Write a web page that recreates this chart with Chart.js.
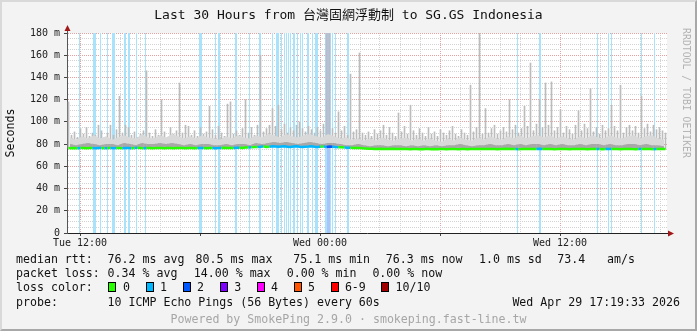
<!DOCTYPE html>
<html>
<head>
<meta charset="utf-8">
<title>SmokePing - SG.GS Indonesia</title>
<script src="https://cdn.jsdelivr.net/npm/chart.js@4/dist/chart.umd.min.js"></script>
<style>
html,body{margin:0;padding:0;background:#f3f3f3;}
#wrap{position:relative;width:697px;height:331px;overflow:hidden;background:#f3f3f3;font-family:"DejaVu Sans Mono",monospace;color:#111;}
#chart{position:absolute;left:0;top:0;}
#frame{position:absolute;left:0;top:0;width:697px;height:331px;box-sizing:border-box;border:2px solid #d9d9d9;border-right-color:#a8a8a8;border-bottom-color:#a8a8a8;pointer-events:none;}
.t{position:absolute;white-space:pre;font-size:11.6px;line-height:14px;}
.sw{position:absolute;top:282px;width:8px;height:10px;box-sizing:border-box;border:1px solid #000;}
#title{position:absolute;left:0;top:7px;width:697px;text-align:center;font-size:13px;line-height:16px;font-family:"DejaVu Sans Mono","Noto Sans CJK TC",monospace;}
#ylab{position:absolute;left:-40px;top:126px;width:100px;text-align:center;font-size:11.6px;line-height:14px;transform:rotate(-90deg);}
#side{position:absolute;left:616px;top:87px;width:140px;text-align:center;font-size:9.8px;line-height:12px;color:#b4b4b4;transform:rotate(90deg);}
#powered{position:absolute;left:0;top:312px;width:697px;text-align:center;font-size:11.6px;line-height:14px;color:#a6a6a6;}
</style>
</head>
<body>
<div id="wrap">
  <canvas id="chart" width="697" height="331"></canvas>
  <div id="title">Last 30 Hours from 台灣固網浮動制 to SG.GS Indonesia</div>
  <div id="ylab">Seconds</div>
  <div id="side">RRDTOOL / TOBI OETIKER</div>

  <div class="t" style="left:16px;top:252px">median rtt:</div>
  <div class="t" style="left:107.6px;top:252px">76.2 ms avg</div>
  <div class="t" style="left:195.6px;top:252px">80.5 ms max</div>
  <div class="t" style="left:293.3px;top:252px">75.1 ms min</div>
  <div class="t" style="left:385.8px;top:252px">76.3 ms now</div>
  <div class="t" style="left:479px;top:252px">1.0 ms sd</div>
  <div class="t" style="left:557.3px;top:252px">73.4</div>
  <div class="t" style="left:607px;top:252px">am/s</div>

  <div class="t" style="left:16px;top:266px">packet loss:</div>
  <div class="t" style="left:107.6px;top:266px">0.34 % avg</div>
  <div class="t" style="left:193.8px;top:266px">14.00 % max</div>
  <div class="t" style="left:286.7px;top:266px">0.00 % min</div>
  <div class="t" style="left:372.4px;top:266px">0.00 % now</div>

  <div class="t" style="left:16px;top:280px">loss color:</div>
  <div id="lossLegend"></div>

  <div class="t" style="left:16px;top:295px">probe:</div>
  <div class="t" style="left:107.6px;top:295px">10 ICMP Echo Pings (56 Bytes) every 60s</div>
  <div class="t" style="left:512.4px;top:295px">Wed Apr 29 17:19:33 2026</div>

  <div id="powered">Powered by SmokePing 2.9.0 · smokeping.fast-line.tw</div>
  <div id="frame"></div>
</div>
<script>
// time axis in minutes counted from Tue 00:00
const START = 681;        // Tue 11:21
const END = 2481;         // Wed 17:21
const STEP = 9;           // median / spike sampling (minutes)
const BAND_STEP = 18;     // smoke band sampling (minutes)

const tickAt = [720, 1440, 2160];
const tickText = ["Tue 12:00", "Wed 00:00", "Wed 12:00"];

// median rtt (ms), one value per STEP
const median = [
  76.4,76.2,76.5,76.3,76.4,76.6,76.3,76.4,76.5,76.2,76.4,76.6,76.3,76.5,76.4,76.2,76.6,76.4,76.3,76.5,
  76.4,76.3,76.5,76.7,76.4,76.2,76.4,76.5,76.3,76.4,76.6,76.4,76.2,76.5,76.4,76.3,76.6,76.4,76.5,76.3,
  76.4,76.5,76.3,76.4,76.6,76.4,76.2,76.4,76.5,76.3,76.4,76.6,76.7,76.5,76.4,76.6,76.8,76.7,76.6,76.9,
  77.0,77.2,77.3,77.5,77.6,77.8,77.5,77.7,78.0,77.8,77.6,77.9,78.1,77.7,77.5,77.8,78.0,77.6,77.4,77.7,
  77.8,78.0,77.6,77.4,77.7,77.9,77.5,77.8,77.6,77.3,77.1,77.2,77.0,76.8,76.7,76.6,76.5,76.4,76.2,76.1,
  75.8,75.9,75.7,75.6,75.8,75.7,75.5,75.6,75.8,75.7,75.5,75.6,75.7,75.5,75.4,75.6,75.5,75.3,75.4,75.5,
  75.6,75.4,75.5,75.3,75.5,75.6,75.4,75.5,75.7,75.5,75.4,75.6,75.5,75.4,75.6,75.5,75.7,75.6,75.5,75.6,
  75.5,75.7,75.6,75.4,75.5,75.6,75.8,75.7,75.5,75.6,75.4,75.5,75.7,75.6,75.5,75.7,75.6,75.8,75.6,75.5,
  75.7,75.6,75.4,75.5,75.7,75.6,75.5,75.4,75.6,75.5,75.7,75.6,75.5,75.4,75.6,75.5,75.7,75.6,75.4,75.5,
  75.6,75.5,75.7,75.6,75.4,75.5,75.6,75.7,75.5,75.4,75.6,75.5,75.7,75.6,75.5,75.4,75.6,75.5,75.7,75.6
];

// slowest ping of each STEP (ms)
const spikeMax = [
  118,88,91,86,94,89,95,87,90,88,97,92,86,90,97,88,93,123,90,97,
  95,88,91,86,89,92,146,90,87,93,88,120,91,86,95,89,92,135,90,97,
  96,88,92,87,95,89,91,114,93,88,96,90,87,116,118,89,92,88,94,120,
  90,95,88,97,160,91,94,97,112,96,115,93,98,90,95,92,97,100,94,91,
  96,93,90,95,92,98,181,181,94,90,109,92,96,88,143,91,93,162,90,88,
  91,87,93,89,92,97,88,95,90,87,108,91,96,89,115,92,88,94,90,87,
  95,89,91,87,93,90,88,92,96,89,87,93,90,88,133,91,95,180,89,112,
  90,94,97,89,92,95,91,120,93,97,90,94,114,96,153,92,98,120,95,135,
  97,136,92,95,111,90,96,93,89,97,110,92,98,94,130,91,95,89,97,92,
  94,115,96,92,133,90,95,97,92,96,90,123,94,98,91,97,93,95,92,90
];

// smoke: upper edge of the dense light band, one value per BAND_STEP
const bandTop = [
  86,84,87,85,88,85,87,84,86,88,86,85,89,86,85,88,86,89,87,85,
  87,85,88,86,85,84,87,85,88,86,85,88,86,89,88,86,89,87,86,88,
  89,87,86,89,87,85,86,84,85,83,85,83,86,84,83,85,86,83,85,83,
  85,83,82,85,83,86,84,83,86,84,87,85,84,87,85,88,85,87,88,86,
  88,85,87,85,84,87,85,88,86,85,88,86,85,87,88,85,87,88,85,84
];

// smoke: upper edge of the darker inner band
const innerTop = [
  80,79,80,81,80,79,80,80,79,81,80,79,81,80,80,81,80,81,80,79,
  80,79,80,80,79,79,80,79,80,80,79,81,80,81,82,81,82,81,80,81,
  82,81,80,81,81,80,79,79,80,79,78,79,79,78,79,79,78,79,78,79,
  78,79,78,79,79,80,79,78,79,79,80,79,79,80,79,80,79,80,80,79,
  80,79,80,79,79,80,79,80,80,79,80,79,79,80,80,79,80,79,79,78
];

// packet loss periods: [from, to, loss level]
const lossBars = [
  [717,720,1],[759,768,1],[780.5,783.5,1],[799.5,802.5,1],[816,825,1],
  [852,858,1],[862.5,868.5,1],[886.5,889.5,1],[914.5,917.5,1],[1076.5,1085.5,1],
  [1125,1128,1],[1132.5,1138.5,1],[1185,1191,1],[1226.5,1229.5,1],[1257,1263,1],
  [1295.5,1298.5,1],[1308.5,1317.5,1],[1323.5,1326.5,1],[1330.5,1333.5,1],[1336.5,1339.5,1],
  [1344.5,1347.5,1],[1350.5,1353.5,1],[1359.5,1365.5,1],[1370,1373,1],[1380.5,1383.5,1],
  [1386.5,1389.5,1],[1402,1408,1],[1415.5,1418.5,1],[1424.5,1433.5,1],[1456,1474,1],
  [1460,1470,2],[1476.5,1479.5,1],[1484.5,1487.5,1],[1520.5,1526.5,1],[2030.5,2033.5,1],
  [2095.5,2101.5,1],[2270.5,2273.5,1],[2303.5,2306.5,1],[2311.5,2314.5,1],[2401.5,2404.5,1],
  [2441.5,2444.5,1]
];

const lossNames = ["0", "1", "2", "3", "4", "5", "6-9", "10/10"];
const lossColors = ["#26ff00", "#00b8ff", "#0059ff", "#7e00ff", "#ff00ff", "#ff5500", "#ff0000", "#a10000"];
const lossBg = ["", "#a9e3fb", "#a9c4f9"];
const swatchX = [108, 145.5, 182.5, 219.5, 256.5, 293.5, 330.7, 381.3];
const swatchLabelX = [123, 160, 197, 234.2, 271.1, 308, 344.9, 395.6];

const MAJOR = "#e6a0a0";
const MINOR = "#d2d2d2";

function $(sel){ return document.querySelector(sel); }

function buildLossLegend(){
  const box = $("#lossLegend");
  lossNames.forEach((name, i)=>{
    const sw = document.createElement("div");
    sw.className = "sw";
    sw.style.left = swatchX[i] + "px";
    sw.style.background = lossColors[i];
    box.appendChild(sw);
    const lab = document.createElement("div");
    lab.className = "t";
    lab.style.left = swatchLabelX[i] + "px";
    lab.style.top = "280px";
    lab.textContent = name;
    box.appendChild(lab);
  });
}

function lossLevelAt(t0, t1){
  let lvl = 0;
  lossBars.forEach(([a, b, l])=>{ if (a < t1 && b > t0 && l > lvl) lvl = l; });
  return lvl;
}

// one grid line per hour on the time axis
function hourTicks(){
  const out = [];
  for (let m = Math.ceil(START / 60) * 60; m < END; m += 60) out.push({value: m});
  return out;
}
const isMajorHour = v => Math.round(v) % 360 === 0;

// white plot area, loss background, axis arrows
const lossBackground = {
  id: "lossBackground",
  beforeDraw(chart){
    const {ctx, chartArea: a} = chart;
    ctx.save();
    ctx.fillStyle = "#ffffff";
    ctx.fillRect(a.left, a.top, a.right - a.left, a.bottom - a.top);
    ctx.restore();
  },
  beforeDatasetsDraw(chart){
    const {ctx, chartArea: a, scales: {x}} = chart;
    ctx.save();
    lossBars.forEach(([from, to, lvl])=>{
      const x0 = Math.round(x.getPixelForValue(from));
      const x1 = Math.max(x0 + 1, Math.round(x.getPixelForValue(to)));
      ctx.fillStyle = lossBg[lvl];
      ctx.fillRect(x0, a.top, x1 - x0, a.bottom - a.top);
    });
    ctx.restore();
  },
  afterDraw(chart){
    const {ctx, chartArea: a} = chart;
    const lx = a.left + 0.5, by = a.bottom + 0.5;
    ctx.save();
    ctx.strokeStyle = "#555";
    ctx.beginPath(); ctx.moveTo(lx, a.top); ctx.lineTo(lx, a.top - 3); ctx.stroke();
    ctx.strokeStyle = "#222";
    ctx.beginPath(); ctx.moveTo(a.right, by); ctx.lineTo(a.right + 2, by); ctx.stroke();
    ctx.fillStyle = "#a01818";
    ctx.beginPath(); ctx.moveTo(lx, a.top - 8); ctx.lineTo(lx - 3, a.top - 2); ctx.lineTo(lx + 3, a.top - 2); ctx.closePath(); ctx.fill();
    ctx.beginPath(); ctx.moveTo(a.right + 7, by); ctx.lineTo(a.right + 1, by - 3); ctx.lineTo(a.right + 1, by + 3); ctx.closePath(); ctx.fill();
    ctx.restore();
  }
};

const xs = median.map((_, i)=>START + STEP * i + STEP / 2);
const bx = bandTop.map((_, j)=>START + BAND_STEP * j + BAND_STEP / 2);

window.addEventListener("load", ()=>{
  buildLossLegend();
  new Chart($("#chart"), {
    type: "line",
    data: {
      datasets: [
        {
          label: "median rtt",
          data: xs.map((x, i)=>({x, y: median[i]})),
          borderColor: lossColors[0],
          borderWidth: 2.5,
          pointRadius: 0,
          fill: false,
          order: 0,
          segment: { borderColor: c => lossColors[lossLevelAt(c.p0.parsed.x, c.p1.parsed.x)] },
        },
        {
          label: "smoke inner",
          data: bx.map((x, j)=>({x, y: innerTop[j]})),
          borderColor: "rgba(0,0,0,0)",
          borderWidth: 0,
          pointRadius: 0,
          backgroundColor: "#a8a8a8",
          fill: 0,
          order: 1,
        },
        {
          label: "smoke band",
          data: bx.map((x, j)=>({x, y: bandTop[j]})),
          borderColor: "rgba(0,0,0,0)",
          borderWidth: 0,
          pointRadius: 0,
          backgroundColor: "#d9d9d9",
          fill: 1,
          order: 2,
        },
        {
          type: "bar",
          label: "smoke spikes",
          data: xs.map((x, i)=>({x, y: [median[i], spikeMax[i]]})),
          backgroundColor: "#bcbcbc",
          barThickness: 1,
          order: 3,
        },
      ]
    },
    options: {
      responsive: false,
      animation: false,
      devicePixelRatio: 1,
      layout: { padding: { top: 33, right: 30, bottom: 0, left: 0 } },
      plugins: { legend: { display: false }, tooltip: { enabled: false } },
      scales: {
        x: {
          type: "linear",
          min: START,
          max: END,
          offset: false,
          afterFit: s => { s.height = 98; },
          afterBuildTicks: s => { s.ticks = hourTicks(); },
          ticks: {
            autoSkip: false,
            maxRotation: 0,
            minRotation: 0,
            padding: 1,
            color: "#222",
            font: { family: "DejaVu Sans Mono", size: 10 },
            callback: v => { const k = tickAt.findIndex(t => Math.abs(t - v) < 0.01); return k < 0 ? "" : tickText[k]; },
          },
          grid: {
            offset: false,
            color: c => (c.tick && isMajorHour(c.tick.value)) ? MAJOR : MINOR,
            tickColor: c => (c.tick && isMajorHour(c.tick.value)) ? "#444" : "rgba(0,0,0,0)",
            tickLength: 3,
          },
          border: { color: "#222", dash: [1, 1] },
        },
        y: {
          min: 0,
          max: 180,
          afterFit: s => { s.width = 67; },
          ticks: {
            stepSize: 5,
            autoSkip: false,
            padding: 4,
            color: "#222",
            font: { family: "DejaVu Sans Mono", size: 10 },
            callback: v => Math.round(v) % 20 === 0 ? (Math.round(v) === 0 ? "0" : Math.round(v) + " m") : "",
          },
          grid: {
            color: c => (c.tick && Math.round(c.tick.value) % 20 === 0) ? MAJOR : MINOR,
            tickColor: c => (c.tick && Math.round(c.tick.value) % 20 === 0) ? "#444" : "rgba(0,0,0,0)",
            tickLength: 3,
          },
          border: { color: "#555", dash: [1, 1] },
        },
      }
    },
    plugins: [lossBackground]
  });
});
</script>
</body>
</html>
